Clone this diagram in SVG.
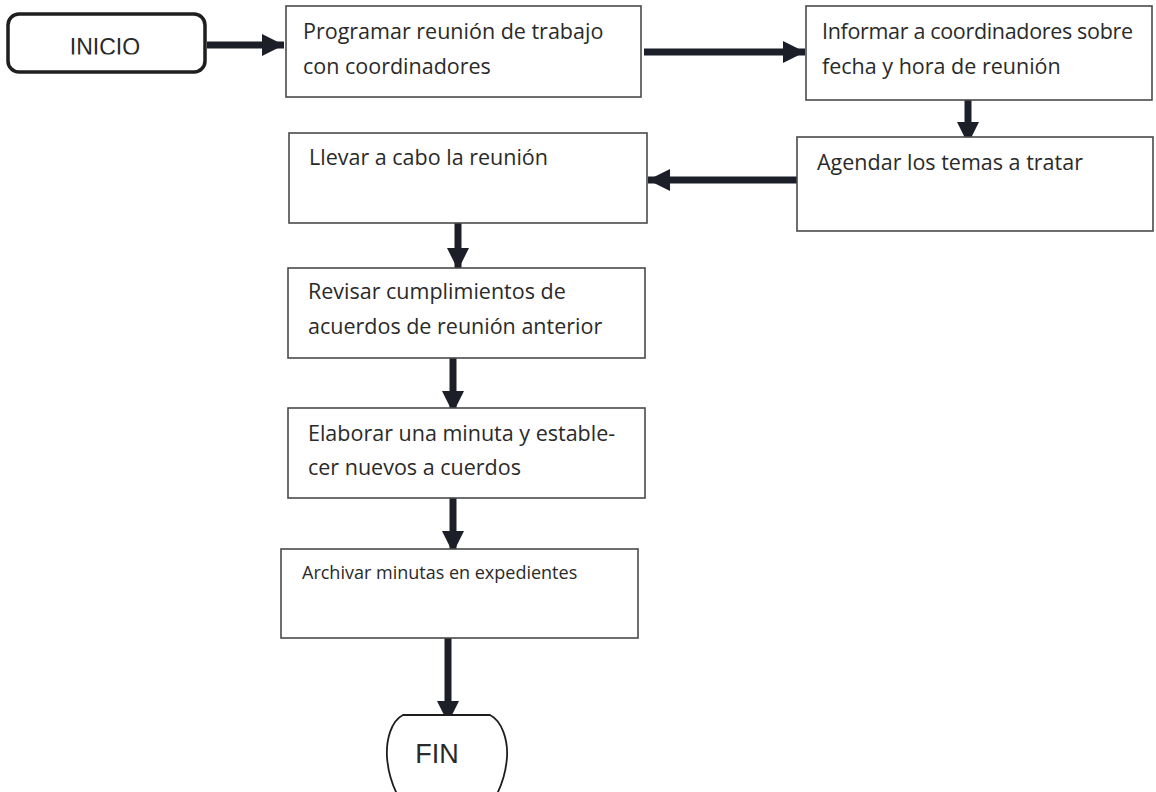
<svg xmlns="http://www.w3.org/2000/svg" width="1156" height="792" viewBox="0 0 1156 792">
  <style>
    .box { fill: #ffffff; stroke: #4a4a4a; stroke-width: 1.6; }
    .lbl { font-family: "Open Sans", "Noto Sans", sans-serif; font-size: 21.5px; fill: #2a2a2a; }
    .small { font-size: 18px; }
    .term { font-family: "Liberation Sans", Arial, sans-serif; fill: #2a2a2a; }
    .flow { stroke: #1c1e28; stroke-width: 7; fill: none; }
  </style>
  <defs>
    <marker id="head" markerUnits="userSpaceOnUse" markerWidth="24" markerHeight="24" viewBox="0 0 24 24" refX="22" refY="12" orient="auto">
      <path d="M0,1 L22,12 L0,23 Z" fill="#1c1e28"/>
    </marker>
    <clipPath id="startClip">
      <rect x="10" y="16" width="193" height="38.5"/>
    </clipPath>
  </defs>
  <rect width="1156" height="792" fill="#ffffff"/>

  <!-- connectors -->
  <g id="connectors">
    <line class="flow" x1="207" y1="45" x2="284" y2="45" marker-end="url(#head)"/>
    <line class="flow" x1="644" y1="52" x2="805" y2="52" marker-end="url(#head)"/>
    <line class="flow" x1="968" y1="95" x2="968" y2="144" marker-end="url(#head)"/>
    <line class="flow" x1="797" y1="180" x2="648" y2="180" marker-end="url(#head)"/>
    <line class="flow" x1="458" y1="218" x2="458" y2="270" marker-end="url(#head)"/>
    <line class="flow" x1="453" y1="353" x2="453" y2="413" marker-end="url(#head)"/>
    <line class="flow" x1="453" y1="495" x2="453" y2="553" marker-end="url(#head)"/>
    <line class="flow" x1="448" y1="635" x2="448" y2="723" marker-end="url(#head)"/>
  </g>

  <!-- start terminator -->
  <g id="inicio">
    <rect x="8" y="14" width="197" height="58" rx="11" fill="#ffffff" stroke="#1e1e1e" stroke-width="3.5"/>
    <text class="term" x="105" y="55" font-size="23" text-anchor="middle" clip-path="url(#startClip)">INICIO</text>
  </g>

  <g id="programar">
    <rect class="box" x="286" y="6" width="355" height="91"/>
    <text class="lbl" x="303" y="39">Programar reunión de trabajo</text>
    <text class="lbl" x="303" y="74">con coordinadores</text>
  </g>

  <g id="informar">
    <rect class="box" x="806" y="6" width="346" height="94"/>
    <text class="lbl" x="822" y="39" textLength="311">Informar a coordinadores sobre</text>
    <text class="lbl" x="822" y="74">fecha y hora de reunión</text>
  </g>

  <g id="agendar">
    <rect class="box" x="797" y="137" width="356" height="94"/>
    <text class="lbl" x="817" y="170">Agendar los temas a tratar</text>
  </g>

  <g id="llevar">
    <rect class="box" x="289" y="133" width="358" height="90"/>
    <text class="lbl" x="309" y="165">Llevar a cabo la reunión</text>
  </g>

  <g id="revisar">
    <rect class="box" x="288" y="268" width="357" height="90"/>
    <text class="lbl" x="308" y="299">Revisar cumplimientos de</text>
    <text class="lbl" x="308" y="334">acuerdos de reunión anterior</text>
  </g>

  <g id="elaborar">
    <rect class="box" x="288" y="408" width="357" height="90"/>
    <text class="lbl" x="308" y="441">Elaborar una minuta y estable-</text>
    <text class="lbl" x="308" y="475">cer nuevos a cuerdos</text>
  </g>

  <g id="archivar">
    <rect class="box" x="281" y="549" width="357" height="89"/>
    <text class="lbl small" x="302" y="579">Archivar minutas en expedientes</text>
  </g>

  <!-- end terminator: flat top, bulging sides running off the bottom edge -->
  <g id="fin">
    <path d="M403,715 L490,715 C502,721 508,740 507,757 C506,772 502,784 497,794 L397,794 C392,784 388,772 387,757 C386,740 391,721 403,715 Z" fill="#ffffff" stroke="#1e1e1e" stroke-width="1.8"/>
    <text class="term" x="437" y="763" font-size="27" text-anchor="middle">FIN</text>
  </g>
</svg>
